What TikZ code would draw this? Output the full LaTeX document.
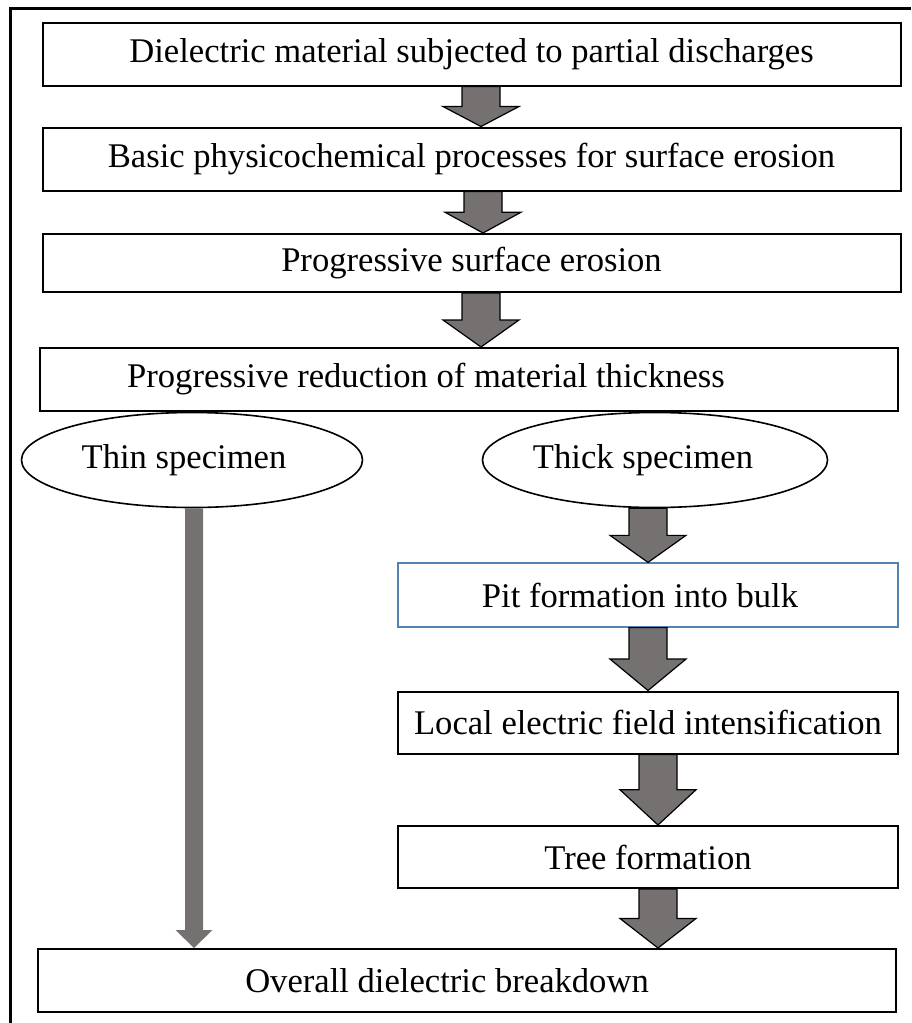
\documentclass[tikz,border=0pt]{standalone}
\usepackage{fontspec}
\setmainfont{Liberation Serif}
\usetikzlibrary{calc,shapes.geometric}
\definecolor{arrowgray}{RGB}{118,113,113}
\definecolor{pitblue}{RGB}{84,130,176}
% block arrow: x position, from node, to node
\newcommand{\blockarrow}[3]{%
  \filldraw[fill=arrowgray, draw=black, line width=0.6pt, line join=miter]
    let \p1=(#1,0), \p2=(#2.south), \p3=(#3.north) in
    ({\x1-9.5pt},\y2) -- ({\x1+9.5pt},\y2) -- ({\x1+9.5pt},{0.5*\y2+0.5*\y3})
    -- ({\x1+19pt},{0.5*\y2+0.5*\y3}) -- (\x1,\y3)
    -- ({\x1-19pt},{0.5*\y2+0.5*\y3}) -- ({\x1-9.5pt},{0.5*\y2+0.5*\y3}) -- cycle;}
\begin{document}
\begin{tikzpicture}[x=0.5pt, y=-0.5pt,
  every node/.style={font=\fontsize{17.3}{20}\selectfont, inner sep=0pt},
  widebox/.style={draw, line width=1pt, minimum width=429pt, minimum height=31.5pt},
  sidebox/.style={draw, line width=1pt, minimum width=250pt, minimum height=31pt},
  specimen/.style={draw, ellipse, line width=0.8pt, minimum width=170.5pt, minimum height=47.5pt}]
  \useasboundingbox (0,0) rectangle (911,1023);
  % Outer frame (cut at right and bottom)
  \draw[line width=1.5pt] (10,1023) -- (10,8) -- (911,8);
  % Main chain
  \node[widebox] (dm) at (471.5,54) {Dielectric material subjected to partial discharges};
  \node[widebox] (bp) at (471.5,159) {Basic physicochemical processes for surface erosion};
  \node[widebox, minimum height=29pt] (pse) at (471.5,263) {Progressive surface erosion};
  \node[widebox] (prt) at (469,379.5) {Progressive reduction of material thickness\kern43pt};
  % Two specimen cases
  \node[specimen] (thin) at (192,460) {Thin specimen\kern8pt};
  \node[specimen] (thick) at (655,460) {Thick specimen\kern12pt};
  % Thick specimen branch
  \node[sidebox, draw=pitblue, line width=0.6pt, minimum height=32pt] (pit) at (648,595) {Pit formation into bulk\kern8pt};
  \node[sidebox] (lef) at (648,722.5) {Local electric field intensification};
  \node[sidebox] (tree) at (648,857) {Tree formation};
  % Final result
  \node[widebox] (odb) at (467,980.5) {Overall dielectric breakdown\kern20pt};
  % Arrows
  \blockarrow{481}{dm}{bp}
  \blockarrow{483}{bp}{pse}
  \blockarrow{481}{pse}{prt}
  \blockarrow{648}{thick}{pit}
  \blockarrow{648}{pit}{lef}
  \blockarrow{658}{lef}{tree}
  \blockarrow{658}{tree}{odb}
  % Long arrow for thin specimen
  \fill[arrowgray] let \p1=(194,0), \p2=(thin.south), \p3=(odb.north) in
    ({\x1-4.5pt},\y2) -- ({\x1+4.5pt},\y2) -- ({\x1+4.5pt},{\y3+9pt})
    -- ({\x1+9.25pt},{\y3+9pt}) -- (\x1,\y3) -- ({\x1-9.25pt},{\y3+9pt})
    -- ({\x1-4.5pt},{\y3+9pt}) -- cycle;
\end{tikzpicture}
\end{document}
